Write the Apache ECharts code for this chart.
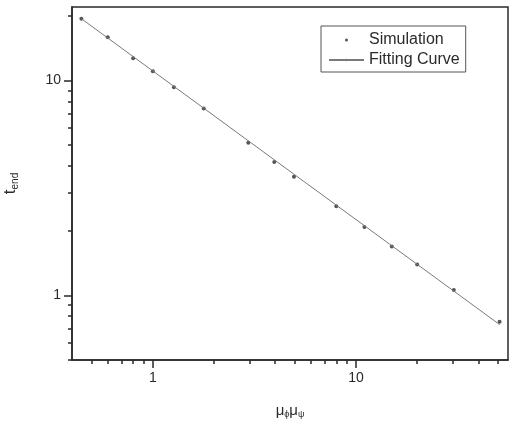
<!DOCTYPE html>
<html>
<head>
<meta charset="utf-8">
<script src="https://cdn.jsdelivr.net/npm/echarts@6/dist/echarts.min.js"></script>
<style>
  html, body { margin: 0; padding: 0; background: #fff; }
  #chart { width: 513px; height: 442px; }
</style>
</head>
<body>
<div id="chart"></div>
<script>
// simulation points
const simX = [0.445, 0.6, 0.8, 1.0, 1.27, 1.78, 2.95, 3.96, 4.95, 8.0, 11.0, 15.0, 20.0, 30.3, 50.9];
const simY = [19.4, 15.9, 12.7, 11.05, 9.31, 7.41, 5.13, 4.18, 3.57, 2.60, 2.08, 1.69, 1.39, 1.06, 0.754];

// fitting curve endpoints (straight line in log-log)
const fitX = [0.445, 51.0];
const fitY = [19.4, 0.73];

// axis ticks
const majorTicks = [1, 10];
const xMinorTicks = [0.5, 0.6, 0.7, 0.8, 0.9, 2, 3, 4, 5, 6, 7, 8, 9, 20, 30, 40, 50];
const yMinorTicks = [0.5, 0.6, 0.7, 0.8, 0.9, 2, 3, 4, 5, 6, 7, 8, 9, 20];

const ink = '#2a2a2a';
const font = 'Liberation Sans, Arial, sans-serif';

const chart = echarts.init(document.getElementById('chart'));

function logAxis(min, max, extra) {
    return Object.assign({
        type: 'log',
        logBase: 10,
        min: min,
        max: max,
        splitLine: { show: false },
        minorTick: { show: false },
        axisLine: { lineStyle: { color: ink, width: 1.5 } }
    }, extra);
}

chart.setOption({
    animation: false,
    backgroundColor: '#fff',
    textStyle: { fontFamily: font },
    grid: {
        left: 72, right: 5, top: 7, bottom: 82,
        outerBoundsMode: 'none',
        containLabel: false,
        show: true,
        borderColor: ink,
        borderWidth: 1.5
    },
    legend: {
        orient: 'vertical',
        left: 321,
        top: 26,
        padding: [6, 6, 4, 7],
        itemGap: 4,
        itemWidth: 35,
        itemHeight: 3,
        symbolKeepAspect: true,
        borderColor: '#555',
        borderWidth: 1,
        textStyle: { fontSize: 16, color: ink, fontFamily: font, lineHeight: 16 },
        data: ['Simulation', 'Fitting Curve']
    },
    xAxis: [
        logAxis(0.4, 56, {
            name: '{m|μ}{s|ϕ}{m|μ}{s|ψ}',
            nameLocation: 'middle',
            nameGap: 42,
            nameTextStyle: {
                rich: {
                    m: { fontSize: 15, color: ink, fontFamily: font },
                    s: { fontSize: 9, color: ink, fontFamily: font, padding: [8, 0, 0, 0] }
                }
            },
            axisTick: { customValues: majorTicks, length: 8, lineStyle: { color: ink, width: 1.5 } },
            axisLabel: { customValues: majorTicks, fontSize: 14, color: ink, margin: 11 }
        }),
        logAxis(0.4, 56, {
            position: 'bottom',
            axisLine: { show: false },
            axisTick: { customValues: xMinorTicks, length: 4, lineStyle: { color: ink, width: 1.5 } },
            axisLabel: { show: false }
        })
    ],
    yAxis: [
        logAxis(0.5, 22, {
            name: '{t|t}{s|end}',
            nameLocation: 'middle',
            nameRotate: 90,
            nameGap: 52,
            nameTextStyle: {
                rich: {
                    t: { fontSize: 17, color: ink, fontFamily: font },
                    s: { fontSize: 10, color: ink, fontFamily: font, padding: [9, 0, 0, 0] }
                }
            },
            axisTick: { customValues: majorTicks, length: 8, lineStyle: { color: ink, width: 1.5 } },
            axisLabel: { customValues: majorTicks, fontSize: 14, color: ink, margin: 11 }
        }),
        logAxis(0.5, 22, {
            position: 'left',
            axisLine: { show: false },
            axisTick: { customValues: yMinorTicks, length: 4, lineStyle: { color: ink, width: 1.5 } },
            axisLabel: { show: false }
        })
    ],
    series: [
        {
            name: 'Simulation',
            type: 'scatter',
            symbol: 'circle',
            symbolSize: 4,
            itemStyle: { color: ink },
            data: simX.map((x, i) => [x, simY[i]])
        },
        {
            name: 'Fitting Curve',
            type: 'line',
            symbol: 'none',
            lineStyle: { color: '#7a7a7a', width: 1 },
            itemStyle: { color: '#7a7a7a' },
            data: fitX.map((x, i) => [x, fitY[i]])
        }
    ]
});
</script>
</body>
</html>
